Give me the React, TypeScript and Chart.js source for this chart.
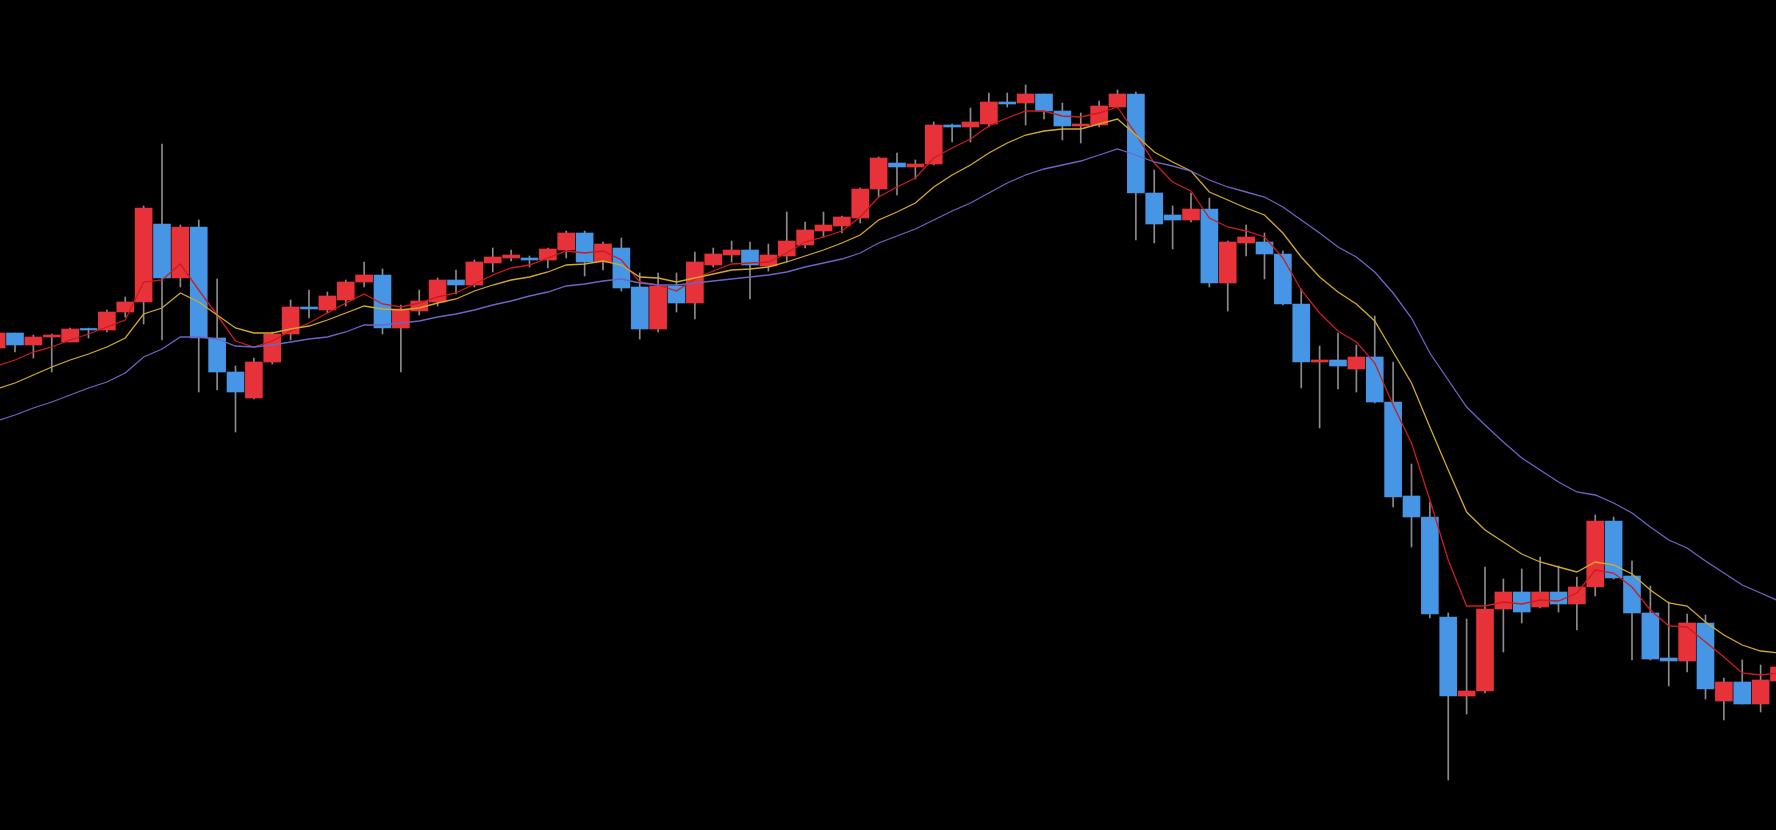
import { useEffect, useRef } from "react";
import { Chart, registerables } from "chart.js";

Chart.register(...registerables);

// Candle index (first and last are partly cut by the plot edges)
const candleIndex: number[] = [
  -1, 0, 1, 2, 3, 4, 5, 6, 7, 8, 9, 10, 11, 12, 13, 14, 15, 16, 17, 18, 19, 20,
  21, 22, 23, 24, 25, 26, 27, 28, 29, 30, 31, 32, 33, 34, 35, 36, 37, 38, 39, 40,
  41, 42, 43, 44, 45, 46, 47, 48, 49, 50, 51, 52, 53, 54, 55, 56, 57, 58, 59, 60,
  61, 62, 63, 64, 65, 66, 67, 68, 69, 70, 71, 72, 73, 74, 75, 76, 77, 78, 79, 80,
  81, 82, 83, 84, 85, 86, 87, 88, 89, 90, 91, 92, 93, 94, 95, 96,
];

const opens: number[] = [
  148.2, 149.7, 148.5, 149.3, 148.8, 150.1, 150.0, 151.8, 152.8, 160.6,
  155.2, 160.3, 149.2, 145.8, 143.2, 146.8, 149.6, 152.3, 152.0, 153.0,
  154.8, 155.5, 150.2, 151.9, 152.8, 155.0, 154.5, 156.7, 157.2, 157.2,
  157.0, 158.0, 159.7, 156.8, 158.2, 154.3, 150.1, 154.4, 152.7, 156.5,
  157.5, 158.0, 156.4, 157.4, 158.5, 159.9, 160.4, 161.2, 164.1, 166.7,
  166.3, 166.6, 170.5, 170.3, 170.6, 172.8, 172.7, 173.6, 171.9, 170.4,
  170.5, 172.3, 173.6, 163.7, 161.5, 161.0, 162.1, 154.7, 158.7, 158.8,
  157.6, 152.6, 146.8, 147.0, 146.1, 147.3, 142.8, 133.4, 131.3, 121.3,
  113.4, 113.9, 122.1, 123.8, 122.3, 123.8, 122.6, 124.3, 130.9, 125.4,
  121.7, 117.2, 116.9, 120.7, 112.9, 114.8, 112.6, 114.9,
];

const highs: number[] = [
  149.8, 149.7, 149.5, 149.6, 150.2, 150.2, 152.0, 153.3, 162.4, 168.6,
  160.5, 161.0, 155.1, 146.4, 147.2, 149.8, 153.0, 154.0, 153.8, 155.0,
  156.8, 156.1, 152.5, 154.0, 155.2, 156.0, 157.0, 158.2, 158.0, 157.4,
  158.2, 159.9, 159.9, 158.8, 159.2, 155.7, 155.7, 155.7, 157.8, 158.2,
  158.9, 158.8, 158.6, 161.8, 160.8, 161.8, 161.4, 164.2, 167.3, 167.7,
  167.0, 170.8, 170.6, 172.2, 173.7, 173.7, 174.5, 173.6, 172.7, 171.7,
  172.9, 174.0, 173.8, 166.0, 162.4, 163.7, 163.2, 158.9, 160.5, 159.7,
  157.9, 154.1, 148.4, 149.7, 148.5, 151.4, 146.8, 136.6, 132.8, 121.7,
  121.1, 126.3, 125.1, 126.1, 127.3, 126.4, 125.3, 131.5, 131.3, 126.9,
  124.4, 122.8, 121.6, 121.5, 115.2, 117.0, 116.5, 116.7,
];

const lows: number[] = [
  148.1, 147.8, 147.2, 145.8, 148.8, 149.2, 149.8, 151.3, 150.6, 149.0,
  154.3, 143.8, 144.0, 139.8, 143.1, 146.6, 149.0, 151.2, 151.7, 152.4,
  154.3, 149.6, 145.8, 151.5, 152.4, 153.6, 154.3, 155.8, 156.9, 156.3,
  156.2, 157.2, 155.4, 156.0, 153.9, 149.1, 149.8, 151.8, 151.1, 156.3,
  156.8, 153.1, 155.9, 156.8, 158.2, 159.3, 159.7, 160.7, 163.3, 163.5,
  165.1, 166.5, 168.8, 168.8, 170.3, 172.3, 170.5, 171.1, 169.0, 168.7,
  170.3, 172.2, 159.0, 158.7, 158.1, 160.8, 154.3, 151.9, 157.4, 155.1,
  152.5, 144.2, 140.2, 144.1, 143.8, 142.7, 132.3, 128.3, 121.2, 105.0,
  111.6, 113.7, 117.8, 120.7, 122.2, 121.8, 120.0, 123.4, 125.1, 117.0,
  117.0, 114.4, 115.8, 113.1, 111.0, 112.6, 111.8, 114.6,
];

const closes: number[] = [
  149.7, 148.5, 149.3, 149.5, 150.1, 150.0, 151.8, 152.8, 162.2, 155.2,
  160.3, 149.2, 145.8, 143.8, 146.8, 149.6, 152.3, 152.1, 153.4, 154.8,
  155.5, 150.2, 152.1, 152.9, 155.0, 154.5, 156.8, 157.3, 157.5, 157.0,
  158.1, 159.7, 156.8, 158.6, 154.2, 150.1, 154.4, 152.7, 156.8, 157.6,
  158.0, 156.5, 157.5, 158.9, 160.0, 160.5, 161.3, 164.1, 167.2, 166.3,
  166.6, 170.5, 170.3, 170.8, 172.8, 172.6, 173.6, 171.9, 170.4, 170.6,
  172.4, 173.6, 163.7, 160.6, 161.0, 162.1, 154.7, 158.8, 159.3, 157.6,
  152.6, 146.8, 147.0, 146.4, 147.3, 142.8, 133.3, 131.3, 121.6, 113.4,
  113.9, 122.1, 123.8, 121.8, 123.8, 122.6, 124.3, 130.9, 125.2, 121.7,
  117.1, 116.9, 120.7, 114.1, 114.8, 112.6, 115.0, 116.3,
];

// Moving averages
const maShort: number[] = [
  146.4, 147.0, 147.8, 148.3, 149.0, 149.6, 150.3, 151.0, 154.8, 155.0,
  156.6, 154.0, 151.5, 148.9, 148.3, 148.9, 149.9, 150.7, 151.7, 152.7,
  153.6, 152.6, 152.3, 152.7, 153.3, 153.7, 154.6, 155.5, 156.2, 156.5,
  157.2, 157.9, 157.7, 157.9, 157.0, 154.8, 154.5, 153.9, 155.1, 155.9,
  156.6, 156.7, 156.8, 157.7, 158.8, 159.3, 159.9, 161.3, 163.3, 164.3,
  165.2, 167.2, 168.2, 169.1, 170.4, 171.2, 171.9, 171.9, 171.4, 171.3,
  171.7, 172.3, 169.6, 166.7, 164.8, 163.9, 161.2, 160.3, 159.9, 159.3,
  157.2, 154.0, 151.7, 149.9, 148.8, 146.7, 142.5, 138.7, 133.0, 127.0,
  122.4, 122.4, 122.8, 122.6, 123.0, 122.9, 123.7, 126.0, 125.7, 124.3,
  122.0, 120.4, 120.3, 118.8, 117.3, 115.7, 115.5, 115.7,
];

const maMid: number[] = [
  144.1, 144.7, 145.5, 146.3, 147.0, 147.6, 148.3, 149.2, 151.6, 152.2,
  153.7, 152.8, 151.5, 150.2, 149.7, 149.7, 150.1, 150.4, 151.0, 151.7,
  152.4, 152.1, 152.0, 152.2, 152.7, 153.1, 153.9, 154.5, 155.0, 155.3,
  155.8, 156.5, 156.6, 156.9, 156.5, 155.3, 155.2, 154.8, 155.2, 155.6,
  156.0, 156.1, 156.3, 156.8, 157.4, 158.0, 158.7, 159.5, 161.0, 161.8,
  162.7, 164.3, 165.5, 166.5, 167.7, 168.7, 169.5, 169.9, 170.1, 170.1,
  170.6, 171.1, 169.5, 167.8, 166.8, 165.9, 163.8, 163.0, 162.2, 161.5,
  159.7, 157.3, 155.3, 153.8, 152.6, 150.9, 147.8, 144.7, 140.3, 136.0,
  131.8, 130.0, 128.8, 127.6, 126.8, 126.3, 125.8, 126.8, 126.5, 125.6,
  124.0, 122.7, 122.4, 120.8, 119.5, 118.5, 117.9, 117.7,
];

const maLong: number[] = [
  140.9, 141.5, 142.2, 142.8, 143.5, 144.2, 144.8, 145.7, 147.3, 148.1,
  149.3, 149.3, 149.1, 148.4, 148.3, 148.5, 148.8, 149.1, 149.3, 149.8,
  150.5, 150.5, 150.7, 150.9, 151.3, 151.6, 152.0, 152.5, 152.9, 153.4,
  153.8, 154.4, 154.6, 154.9, 155.1, 154.7, 154.5, 154.5, 154.7, 154.9,
  155.1, 155.3, 155.5, 155.8, 156.3, 156.7, 157.1, 157.7, 158.7, 159.4,
  160.1, 161.0, 161.9, 162.7, 163.7, 164.7, 165.5, 166.1, 166.5, 166.9,
  167.5, 168.1, 167.5, 166.8, 166.4, 165.9, 165.0, 164.3, 163.8, 163.3,
  162.3, 161.0, 159.7, 158.3, 157.3, 155.8, 153.7, 151.2, 147.7, 145.0,
  142.3, 140.5, 138.8, 137.2, 136.0, 134.8, 133.8, 133.5, 132.7, 131.7,
  130.3, 129.0, 128.2, 126.9, 125.7, 124.5, 123.7, 122.9,
];

const UP_COLOR = "#e8323a";
const DOWN_COLOR = "#4796e6";
const WICK_COLOR = "#8c8c8c";

export default function App() {
  const canvasRef = useRef<HTMLCanvasElement | null>(null);

  useEffect(() => {
    document.body.style.margin = "0";
    document.body.style.background = "#000";
    const canvas = canvasRef.current;
    if (!canvas) return;

    const wickData = candleIndex.map((x, k) => ({ x, y: [lows[k], highs[k]] }));
    const bodyData = candleIndex.map((x, k) => ({ x, y: [opens[k], closes[k]] }));
    const bodyColors = candleIndex.map((_, k) => (closes[k] >= opens[k] ? UP_COLOR : DOWN_COLOR));
    const line = (vals: number[]) => candleIndex.map((x, k) => ({ x, y: vals[k] }));

    const chart = new Chart(canvas, {
      type: "bar",
      data: {
        datasets: [
          {
            type: "line",
            data: line(maLong),
            borderColor: "#6e64c4",
            borderWidth: 1.3,
            pointRadius: 0,
            tension: 0,
            order: 0,
          } as any,
          {
            type: "line",
            data: line(maMid),
            borderColor: "#d2aa28",
            borderWidth: 1.3,
            pointRadius: 0,
            tension: 0,
            order: 0,
          } as any,
          {
            type: "line",
            data: line(maShort),
            borderColor: "#cc1c1c",
            borderWidth: 1.3,
            pointRadius: 0,
            tension: 0,
            order: 0,
          } as any,
          {
            type: "bar",
            data: bodyData,
            backgroundColor: bodyColors,
            borderWidth: 0,
            barThickness: 17,
            minBarLength: 1.5,
            grouped: false,
            order: 1,
          } as any,
          {
            type: "bar",
            data: wickData,
            backgroundColor: WICK_COLOR,
            borderWidth: 0,
            barThickness: 1,
            grouped: false,
            order: 2,
          } as any,
        ],
      },
      options: {
        animation: false,
        responsive: false,
        maintainAspectRatio: false,
        devicePixelRatio: 1,
        layout: { padding: 0 },
        plugins: { legend: { display: false }, tooltip: { enabled: false } },
        events: [],
        scales: {
          x: {
            type: "linear",
            display: false,
            min: -0.8163,
            max: 95.837,
            offset: false,
          },
          y: {
            type: "linear",
            display: false,
            min: 100,
            max: 183,
          },
        },
      } as any,
    });

    return () => chart.destroy();
  }, []);

  return (
    <div style={{ width: 1776, height: 830, background: "#000" }}>
      <canvas ref={canvasRef} width={1776} height={830} style={{ display: "block" }} />
    </div>
  );
}
